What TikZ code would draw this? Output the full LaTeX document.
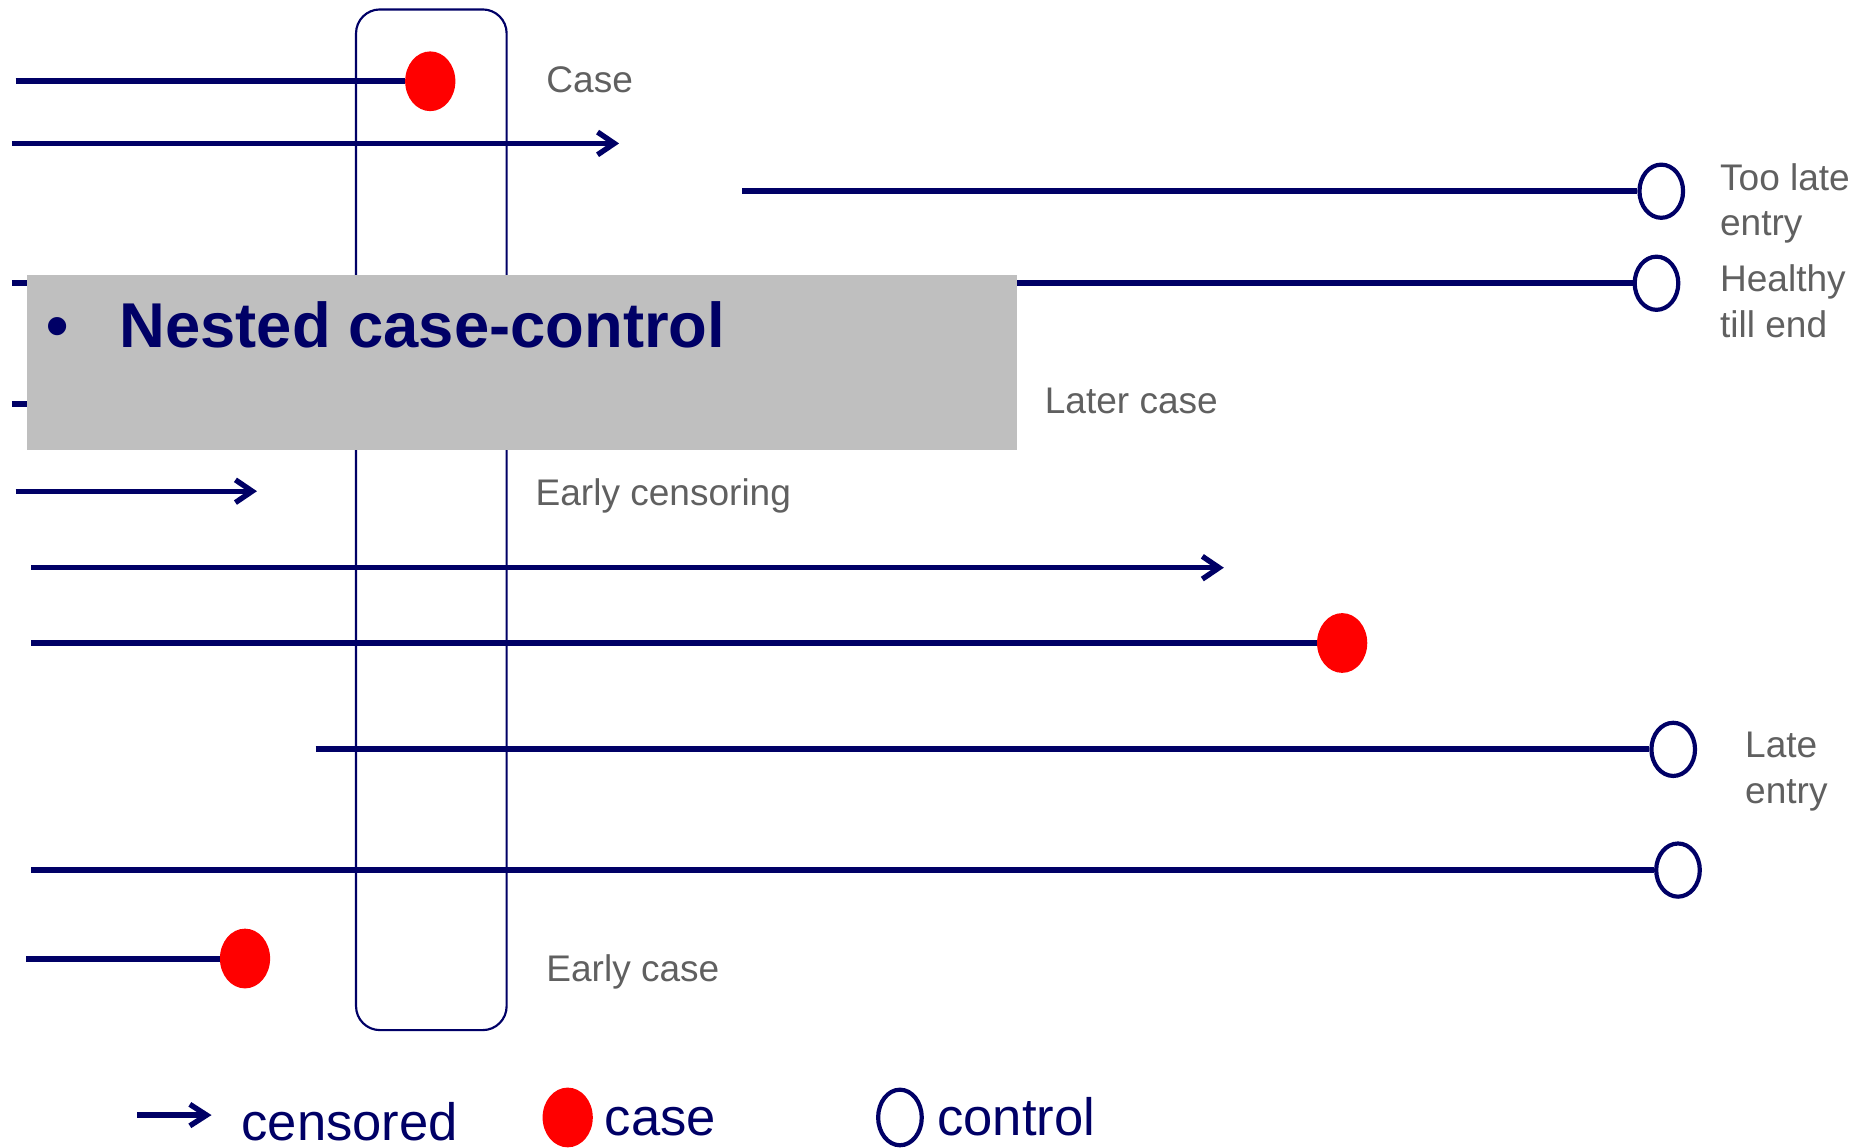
\documentclass[tikz,border=0pt]{standalone}
\usepackage{fontspec}
\setmainfont{Liberation Sans}
\usetikzlibrary{shapes.geometric,arrows.meta}
\definecolor{navy}{RGB}{0,0,102}
\definecolor{labelgray}{RGB}{96,96,96}
\definecolor{panelgray}{RGB}{191,191,191}
\begin{document}
\begin{tikzpicture}[x=1pt,y=-1pt,
  follow/.style={draw=navy,line width=5pt},
  censor/.style={draw=navy,line width=4.5pt,-{Straight Barb[length=14pt,width=19pt,line width=4.5pt]}},
  keycensor/.style={draw=navy,line width=4.5pt,-{Straight Barb[length=14pt,width=18pt,line width=4.5pt]}},
  casedot/.style={ellipse,fill=red,minimum width=42pt,minimum height=50pt,inner sep=0pt},
  ctrldot/.style={ellipse,draw=navy,line width=3.5pt,fill=white,minimum width=36.5pt,minimum height=44.5pt,inner sep=0pt},
  note/.style={text=labelgray,font=\fontsize{31}{38}\selectfont,anchor=base west,inner sep=0pt,align=left},
  keytext/.style={text=navy,font=\fontsize{44}{52}\selectfont,anchor=base west,inner sep=0pt},
]
\useasboundingbox (0,0) rectangle (1568,960);

% risk-set window at the time of the index case
\node[draw=navy,line width=1.8pt,rounded corners=20pt,minimum width=126pt,minimum height=854pt,
      inner sep=0pt,anchor=north west] (window) at (297,7) {};

% follow-up lines, one per subject
\coordinate (s1) at (13,68);
\node[casedot] (e1) at (360,68) {};
\draw[follow] (s1) -- (e1);

\coordinate (s2) at (10,120);
\coordinate (e2) at (518,120);
\draw[censor] (s2) -- (e2);

\coordinate (s3) at (621,160);
\node[ctrldot] (e3) at (1390,160) {};
\draw[follow] (s3) -- (e3);

\coordinate (s4) at (10,237);
\node[ctrldot] (e4) at (1386,237) {};
\draw[follow] (s4) -- (e4);

\coordinate (s5) at (10,338);
\coordinate (e5) at (800,338);
\draw[follow] (s5) -- (e5);

\coordinate (s6) at (13,411);
\coordinate (e6) at (215,411);
\draw[censor] (s6) -- (e6);

\coordinate (s7) at (26,475);
\coordinate (e7) at (1024,475);
\draw[censor] (s7) -- (e7);

\coordinate (s8) at (26,538);
\node[casedot] (e8) at (1123,538) {};
\draw[follow] (s8) -- (e8);

\coordinate (s9) at (264,627);
\node[ctrldot] (e9) at (1400,627) {};
\draw[follow] (s9) -- (e9);

\coordinate (s10) at (26,728);
\node[ctrldot] (e10) at (1404,728) {};
\draw[follow] (s10) -- (e10);

\coordinate (s11) at (22,802);
\node[casedot] (e11) at (205,802) {};
\draw[follow] (s11) -- (e11);

% labels (multi-line labels are anchored at the baseline of their last line)
\node[note] (lcase) at (457,77) {Case};
\node[note] (ltoolate) at (1439,197) {Too late\\entry};
\node[note] (lhealthy) at (1439,282) {Healthy\\till end};
\node[note] (llater) at (874,346) {Later case};
\node[note] (lcensor) at (448,423) {Early censoring};
\node[note] (llate) at (1460,672) {Late\\entry};
\node[note] (learly) at (457,821) {Early case};

% title panel
\node[fill=panelgray,minimum width=829pt,minimum height=146pt,inner sep=0pt,anchor=north west] (panel) at (22,230) {};
\node[text=navy,font=\fontsize{53}{60}\selectfont\bfseries,anchor=base west,inner sep=0pt] (title) at (100,291)
  {\llap{•\hspace{43pt}}Nested case-control};

% legend
\coordinate (k1) at (115,933);
\coordinate (k2) at (177,933);
\draw[keycensor] (k1) -- (k2);
\node[keytext] (kcensor) at (202,954) {censored};
\node[casedot] (kcase) at (475,935) {};
\node[keytext] (kcasetext) at (506,950) {case};
\node[ctrldot,minimum width=36.5pt,minimum height=46.5pt] (kctrl) at (753,935) {};
\node[keytext] (kctrltext) at (784,950) {control};
\end{tikzpicture}
\end{document}
